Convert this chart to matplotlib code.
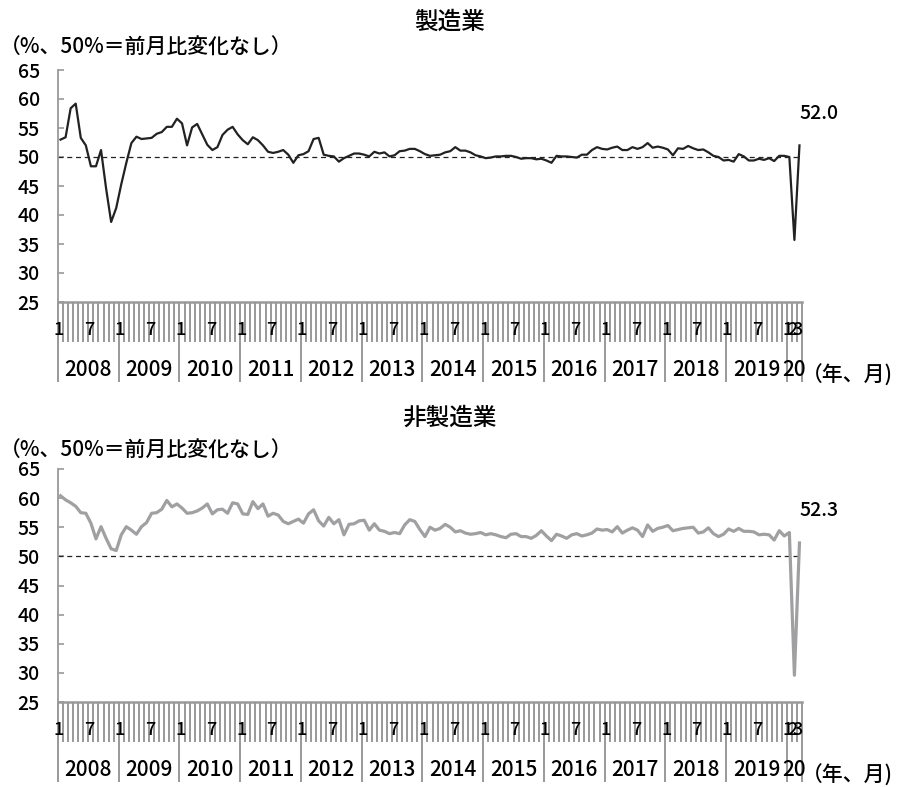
import numpy as np
import matplotlib
matplotlib.use("Agg")
import matplotlib.pyplot as plt

plt.rcParams['font.family'] = ['Noto Sans CJK JP', 'DejaVu Sans']
plt.rcParams['font.weight'] = 'medium'

# monthly PMI, 2008/1 - 2020/3
years = list(range(2008, 2021))
month_labels = {1: "1", 7: "7"}
last_year_months = ["1", "2", "3"]

manufacturing = [
    53.0, 53.4, 58.4, 59.2, 53.3, 52.0, 48.4, 48.4, 51.2, 44.6, 38.8, 41.2,
    45.3, 49.0, 52.4, 53.5, 53.1, 53.2, 53.3, 54.0, 54.3, 55.2, 55.2, 56.6,
    55.8, 52.0, 55.1, 55.7, 53.9, 52.1, 51.2, 51.7, 53.8, 54.7, 55.2, 53.9,
    52.9, 52.2, 53.4, 52.9, 52.0, 50.9, 50.7, 50.9, 51.2, 50.4, 49.0, 50.3,
    50.5, 51.0, 53.1, 53.3, 50.4, 50.2, 50.1, 49.2, 49.8, 50.2, 50.6, 50.6,
    50.4, 50.1, 50.9, 50.6, 50.8, 50.1, 50.3, 51.0, 51.1, 51.4, 51.4, 51.0,
    50.5, 50.2, 50.3, 50.4, 50.8, 51.0, 51.7, 51.1, 51.1, 50.8, 50.3, 50.1,
    49.8, 49.9, 50.1, 50.1, 50.2, 50.2, 50.0, 49.7, 49.8, 49.8, 49.6, 49.7,
    49.4, 49.0, 50.2, 50.1, 50.1, 50.0, 49.9, 50.4, 50.4, 51.2, 51.7, 51.4,
    51.3, 51.6, 51.8, 51.2, 51.2, 51.7, 51.4, 51.7, 52.4, 51.6, 51.8, 51.6,
    51.3, 50.3, 51.5, 51.4, 51.9, 51.5, 51.2, 51.3, 50.8, 50.2, 50.0, 49.4,
    49.5, 49.2, 50.5, 50.1, 49.4, 49.4, 49.7, 49.5, 49.8, 49.3, 50.2, 50.2,
    50.0, 35.7, 52.0,
]

non_manufacturing = [
    60.4, 59.7, 59.2, 58.6, 57.5, 57.4, 55.7, 53.0, 55.1, 53.1, 51.3, 51.0,
    53.7, 55.1, 54.5, 53.8, 55.1, 55.8, 57.4, 57.5, 58.1, 59.6, 58.5, 59.0,
    58.3, 57.4, 57.5, 57.8, 58.3, 59.0, 57.3, 58.0, 58.1, 57.4, 59.2, 59.0,
    57.3, 57.2, 59.4, 58.2, 59.0, 56.9, 57.4, 57.1, 56.0, 55.6, 56.0, 56.4,
    55.7, 57.3, 58.0, 56.1, 55.2, 56.7, 55.6, 56.3, 53.7, 55.5, 55.6, 56.1,
    56.2, 54.5, 55.6, 54.5, 54.3, 53.9, 54.1, 53.9, 55.4, 56.3, 56.0, 54.6,
    53.4, 55.0, 54.5, 54.8, 55.5, 55.0, 54.2, 54.4, 54.0, 53.8, 53.9, 54.1,
    53.7, 53.9, 53.7, 53.4, 53.2, 53.8, 53.9, 53.4, 53.4, 53.1, 53.6, 54.4,
    53.5, 52.7, 53.8, 53.5, 53.1, 53.7, 53.9, 53.5, 53.7, 54.0, 54.7, 54.5,
    54.6, 54.2, 55.1, 54.0, 54.5, 54.9, 54.5, 53.4, 55.4, 54.3, 54.8, 55.0,
    55.3, 54.4, 54.6, 54.8, 54.9, 55.0, 54.0, 54.2, 54.9, 53.9, 53.4, 53.8,
    54.7, 54.3, 54.8, 54.3, 54.3, 54.2, 53.7, 53.8, 53.7, 52.8, 54.4, 53.5,
    54.1, 29.6, 52.3,
]

W, H = 899, 787
PT = 72 / 100  # points per pixel
AXIS_GRAY = "#999999"

fig = plt.figure(figsize=(W / 100, H / 100), dpi=100)


def px_axes(x0, y_top, x1, y_bot):
    return fig.add_axes([x0 / W, 1 - y_bot / H, (x1 - x0) / W, (y_bot - y_top) / H])


def draw_panel(ax, values, color, lw, title, title_y, sub_y):
    n = len(values)
    x = np.arange(n)
    ax.plot(x, values, color=color, lw=lw, zorder=3)
    ax.axhline(50, color="#222222", lw=0.9, ls=(0, (4, 3)), zorder=2)

    ax.set_xlim(-0.5, n - 0.5)
    ax.set_ylim(25, 65)
    ax.set_yticks(range(25, 70, 5))
    ax.tick_params(axis="y", direction="in", length=4, width=1.2,
                   color=AXIS_GRAY, labelsize=14, pad=13)

    for s in ["top", "right"]:
        ax.spines[s].set_visible(False)
    ax.spines["left"].set_color(AXIS_GRAY)
    ax.spines["left"].set_linewidth(1.3)
    ax.spines["bottom"].set_color(AXIS_GRAY)
    ax.spines["bottom"].set_linewidth(1.8)

    # month separators (short) and year separators (long)
    bounds = np.arange(-0.5, n, 1.0)
    year_bounds = [b for b in bounds if (b + 0.5) % 12 == 0] + [n - 0.5]
    month_bounds = [b for b in bounds if b not in year_bounds]
    ax.set_xticks(year_bounds)
    ax.set_xticks(month_bounds, minor=True)
    ax.set_xticklabels([])
    ax.tick_params(axis="x", which="major", direction="out",
                   length=80 * PT, width=1.4, color=AXIS_GRAY)
    ax.tick_params(axis="x", which="minor", direction="out",
                   length=40 * PT, width=1.4, color=AXIS_GRAY)

    tr = ax.get_xaxis_transform()
    for i in range(n):
        m = i % 12 + 1
        if i >= 144:
            lab = last_year_months[i - 144]
        else:
            lab = month_labels.get(m)
        if lab:
            ax.annotate(lab, xy=(i - 0.3, 0), xycoords=tr,
                        xytext=(0, -28 * PT), textcoords="offset points",
                        ha="center", va="center", fontsize=13, zorder=5)

    for k, yr in enumerate(years):
        start = k * 12 - 0.5
        end = min(start + 12, n - 0.5)
        lab = str(yr) if end - start == 12 else str(yr)[2:]
        ax.annotate(lab, xy=((start + end) / 2, 0), xycoords=tr,
                    xytext=(0, -68 * PT), textcoords="offset points",
                    ha="center", va="center", fontsize=15)

    ax.annotate("（年、月)", xy=(1, 0), xycoords="axes fraction",
                xytext=(0, -74 * PT), textcoords="offset points",
                ha="left", va="center", fontsize=15, annotation_clip=False)

    ax.annotate(f"{values[-1]:.1f}", xy=(x[-1], values[-1]),
                xytext=(0, 32 * PT), textcoords="offset points",
                ha="left", va="center", fontsize=14)

    fig.text(0.5, 1 - title_y / H, title, ha="center", va="center", fontsize=17)
    fig.text(0.0, 1 - sub_y / H, "（%、50%＝前月比変化なし）",
             ha="left", va="center", fontsize=15)


ax1 = px_axes(58, 70, 802, 302)
draw_panel(ax1, manufacturing, "#222222", 1.6, "製造業", 22, 48)

ax2 = px_axes(58, 469, 802, 702)
draw_panel(ax2, non_manufacturing, "#a0a0a2", 2.3, "非製造業", 418, 451)

fig.savefig("out.png", dpi=100, facecolor="white")
